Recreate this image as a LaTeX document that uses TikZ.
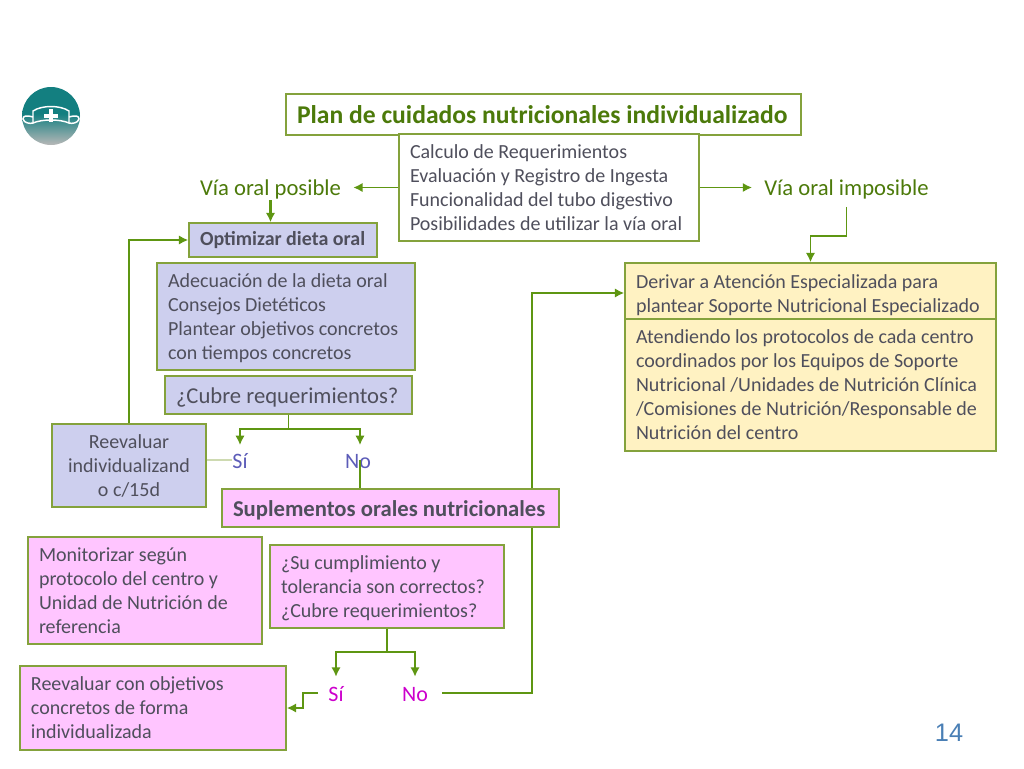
\documentclass[tikz,border=0pt]{standalone}
\usepackage{fontspec}
\setmainfont{Carlito}
\setsansfont{Liberation Sans}
\usetikzlibrary{arrows.meta}
\definecolor{linegreen}{HTML}{5E9612}
\definecolor{edgegreen}{HTML}{84A23C}
\definecolor{titlegreen}{HTML}{4C7A0A}
\definecolor{bodygray}{HTML}{4F4F5C}
\definecolor{fillblue}{HTML}{CDCFEE}
\definecolor{fillpink}{HTML}{FFC5FF}
\definecolor{fillyellow}{HTML}{FFF2C2}
\definecolor{logoteal}{HTML}{137F80}
\definecolor{pageblue}{HTML}{4A7FB5}
\definecolor{answerviolet}{HTML}{5C5CB8}
\definecolor{answermagenta}{HTML}{CC00CC}
\pgfdeclareverticalshading{logoshade}{100bp}{color(0bp)=(black!28);color(25bp)=(black!28);color(52bp)=(logoteal);color(100bp)=(logoteal)}
% taller first line, pushes the text of a box down
\newcommand{\lowerline}[1]{\rule{0pt}{#1}}
\tikzset{
	boxsize/.style 2 args={minimum width=#1*0.75pt, text width=(#1-22)*0.75pt, minimum height=#2*0.75pt},
	plainbox/.style={draw=edgegreen, line width=1.1pt, fill=white, inner xsep=8.25pt, inner ysep=0pt, align=flush left, text=bodygray, font=\fontsize{15}{18}\selectfont},
	bluebox/.style={plainbox, fill=fillblue},
	pinkbox/.style={plainbox, fill=fillpink},
	yellowbox/.style={plainbox, fill=fillyellow},
	greenlabel/.style={text=titlegreen, inner sep=0pt, font=\fontsize{17}{18}\selectfont},
	answer/.style={inner sep=0pt, text height=12pt, text depth=0pt, font=\fontsize{16.5}{18}\selectfont},
	answerblue/.style={answer, text=answerviolet},
	answerpink/.style={answer, text=answermagenta},
	link/.style={draw=linegreen, line width=1.4pt},
	arrowlink/.style={link, -{Latex[length=7pt,width=7pt]}},
}
\begin{document}
\begin{tikzpicture}[x=0.75pt,y=-0.75pt]
	\useasboundingbox (0,0) rectangle (1024,768);
	% logo
	\shade[shading=logoshade] (51,116) circle (29);
	\draw[white, line width=1.1pt] (33,111) .. controls (42,105) and (60,105) .. (69,111) -- (69,123) .. controls (60,119) and (42,119) .. (33,123) -- cycle;
	\draw[white, line width=1.1pt] (33,117) .. controls (26,115) and (23,116) .. (23,119) .. controls (24,123) and (30,124) .. (33,123);
	\draw[white, line width=1.1pt] (69,117) .. controls (76,115) and (79,116) .. (79,119) .. controls (78,123) and (72,124) .. (69,123);
	\fill[white] (49,109) rectangle (53,122);
	\fill[white] (44,114) rectangle (58,118);
	% boxes
	\node[plainbox, boxsize={515}{41}, text=titlegreen, font=\fontsize{19.2}{22}\bfseries\selectfont] (plan) at (543.5,114.5) {Plan de cuidados nutricionales individualizado};
	\node[plainbox, boxsize={300}{107}] (calc) at (549,187.5) {Calculo de Requerimientos\\Evaluación y Registro de Ingesta\\Funcionalidad del tubo digestivo\\Posibilidades de utilizar la vía oral};
	\node[greenlabel] (posible) at (270.5,189) {Vía oral posible};
	\node[greenlabel] (imposible) at (846.5,189) {Vía oral imposible};
	\node[bluebox, boxsize={188}{34}, font=\fontsize{15}{18}\bfseries\selectfont] (optimizar) at (283,240) {Optimizar dieta oral};
	\node[bluebox, boxsize={258}{107}] (adecuacion) at (286,316.5) {\lowerline{13pt}Adecuación de la dieta oral\\Consejos Dietéticos\\Plantear objetivos concretos\\con tiempos concretos};
	\node[bluebox, boxsize={247}{38}, font=\fontsize{17}{18}\selectfont] (cubre) at (288.5,395) {\lowerline{15pt}¿Cubre requerimientos?};
	\node[bluebox, boxsize={154}{83}, align=flush center] (reevaluar) at (129,465.5) {Reevaluar\\individualizand\\o c/15d};
	\node[answerblue] (si) at (240,460) {Sí};
	\node[answerblue] (no) at (358,460) {No};
	\node[pinkbox, boxsize={234}{107}] (monitorizar) at (145,590.5) {Monitorizar según\\protocolo del centro y\\Unidad de Nutrición de\\referencia};
	\node[pinkbox, boxsize={234}{83}] (cumplimiento) at (387,586.5) {\lowerline{13pt}¿Su cumplimiento y\\tolerancia son correctos?\\¿Cubre requerimientos?};
	\node[pinkbox, boxsize={266}{84}] (objetivos) at (153,708) {Reevaluar con objetivos\\concretos de forma\\individualizada};
	\node[answerpink] (si2) at (336,693) {Sí};
	\node[answerpink] (no2) at (415,693) {No};
	\node[yellowbox, boxsize={371}{56}] (derivar) at (810.5,291) {\lowerline{16pt}Derivar a Atención Especializada para\\plantear Soporte Nutricional Especializado};
	\node[yellowbox, boxsize={371}{132}] (atendiendo) at (810.5,385) {Atendiendo los protocolos de cada centro\\coordinados por los Equipos de Soporte\\Nutricional /Unidades de Nutrición Clínica\\/Comisiones de Nutrición/Responsable de\\Nutrición del centro};
	\node[text=pageblue, inner sep=0pt, font=\sffamily\fontsize{19}{20}\selectfont] (page) at (949,733) {14};
	% connectors
	\draw[arrowlink, shorten >=9pt] (calc.west) -- (calc.west -| posible.east);
	\draw[arrowlink, shorten >=9pt] (calc.east) -- (calc.east -| imposible.west);
	\draw[arrowlink, line width=2pt, shorten <=1pt] (posible.south) -- (posible.south |- optimizar.north);
	\draw[arrowlink] (imposible.south) ++(0,8) -- ++(0,29) -| (derivar.north);
	\draw[arrowlink] (reevaluar.north) |- (optimizar.west);
	\draw[link] (cubre.south) -- ++(0,14) coordinate (fork);
	\draw[arrowlink] (fork) -| ([yshift=5pt]si.north);
	\draw[arrowlink] (fork) -| ([yshift=5pt,xshift=1.5pt]no.north);
	\draw[line width=2.2pt, draw=edgegreen!40!white] (reevaluar.east |- si) -- (si.west);
	\draw[link] (cumplimiento.south) -- ++(0,23) coordinate (fork2);
	\draw[arrowlink] (fork2) -| ([yshift=6pt]si2.north);
	\draw[arrowlink] (fork2) -| ([yshift=6pt]no2.north);
	\draw[arrowlink] (si2.west) ++(-10,0) -- ++(-15,0) |- (objetivos.east);
	\draw[arrowlink] (no2.east) ++(14,0) -| (532,293) -- (derivar.west |- 532,293);
	% drawn last: it covers the long connector
	\node[pinkbox, boxsize={337}{38}, font=\fontsize{17}{18}\bfseries\selectfont] (suplementos) at (390.5,508) {\lowerline{15pt}Suplementos orales nutricionales};
	\draw[link, line width=0.8pt] ([xshift=1.5pt]no.center) -- ([xshift=1.5pt]no.center |- suplementos.north);
\end{tikzpicture}
\end{document}
